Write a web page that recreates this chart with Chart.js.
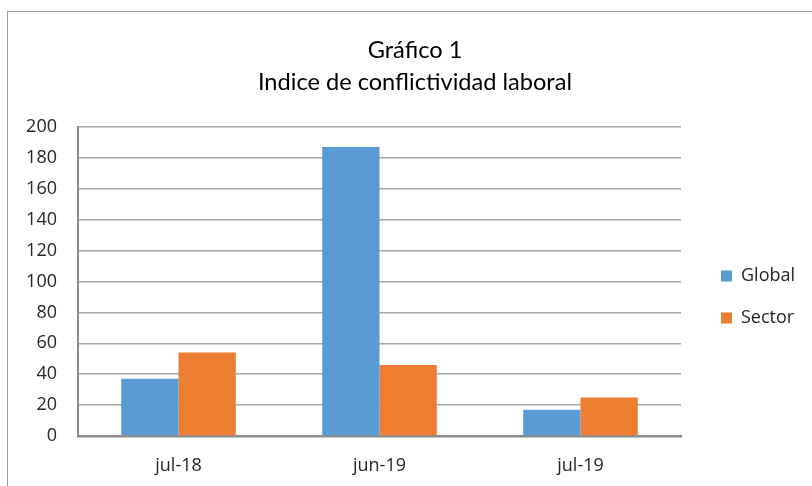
<!DOCTYPE html>
<html>
<head>
<meta charset="utf-8">
<script src="https://cdn.jsdelivr.net/npm/chart.js@4"></script>
<style>
  html, body { margin: 0; padding: 0; background: #fff; overflow: hidden; width: 812px; height: 486px; }
  #frame { position: absolute; left: 7px; top: 11px; width: 1000px; height: 1000px;
           border-left: 1px solid #9c9c9c; border-top: 1px solid #9c9c9c; }
  #wrap { position: absolute; left: 0; top: 0; width: 812px; height: 486px; }
</style>
</head>
<body>
<div id="frame"></div>
<div id="wrap"><canvas id="c" width="812" height="486"></canvas></div>
<script>
const categories = ['jul-18', 'jun-19', 'jul-19'];
const globalValues = [37, 187, 17];
const sectorValues = [54, 46, 25];
const titleLines = ['Gráfico 1', 'Indice de conflictividad laboral'];
const seriesNames = ['Global', 'Sector'];

const layoutTweak = {
  id: 'layoutTweak',
  beforeInit(chart) {
    const lg = chart.legend;
    if (lg) {
      const origFit = lg.fit.bind(lg);
      lg.fit = function () { origFit(); this.width = 131; };
    }
  },
  afterLayout(chart) {
    const lg = chart.legend;
    if (lg) { lg.left += 16; lg.right += 16; lg.top += 54; lg.bottom += 54; }
    const tb = chart.titleBlock;
    if (tb) { tb.left += 9; tb.right += 9; }
  }
};

new Chart(document.getElementById('c'), {
  type: 'bar',
  data: {
    labels: categories,
    datasets: [
      { label: seriesNames[0], data: globalValues, backgroundColor: '#5B9BD5', borderWidth: 0 },
      { label: seriesNames[1], data: sectorValues, backgroundColor: '#ED7D31', borderWidth: 0 }
    ]
  },
  options: {
    responsive: false,
    animation: false,
    devicePixelRatio: 1,
    layout: { padding: { left: 0, right: 0, top: 0, bottom: 0 } },
    datasets: { bar: { categoryPercentage: 0.57, barPercentage: 1.0 } },
    scales: {
      x: {
        grid: { display: false, drawTicks: false },
        border: { display: true, color: '#8c8c8c', width: 2.5 },
        ticks: { color: '#262626', font: { family: 'Open Sans', size: 18 }, padding: 19 },
        afterFit(s) { s.height = 50; }
      },
      y: {
        min: 0, max: 200,
        ticks: { stepSize: 20, color: '#262626', font: { family: 'Open Sans', size: 18 }, padding: 21 },
        grid: { color: '#a8a8a8', lineWidth: 1.5, drawTicks: false },
        border: { display: true, color: '#8c8c8c', width: 2 },
        afterFit(s) { s.width = 78; }
      }
    },
    plugins: {
      title: {
        display: true,
        text: titleLines,
        color: '#000',
        font: { family: 'Lato', size: 23.6, weight: 'normal', lineHeight: 32 / 23.6 },
        padding: { top: 34, bottom: 29 }
      },
      legend: {
        display: true,
        position: 'right',
        align: 'center',
        labels: {
          boxWidth: 11, boxHeight: 11, padding: 24,
          color: '#262626',
          font: { family: 'Open Sans', size: 18 }
        }
      },
      tooltip: { enabled: false }
    }
  },
  plugins: [layoutTweak]
});
</script>
</body>
</html>
